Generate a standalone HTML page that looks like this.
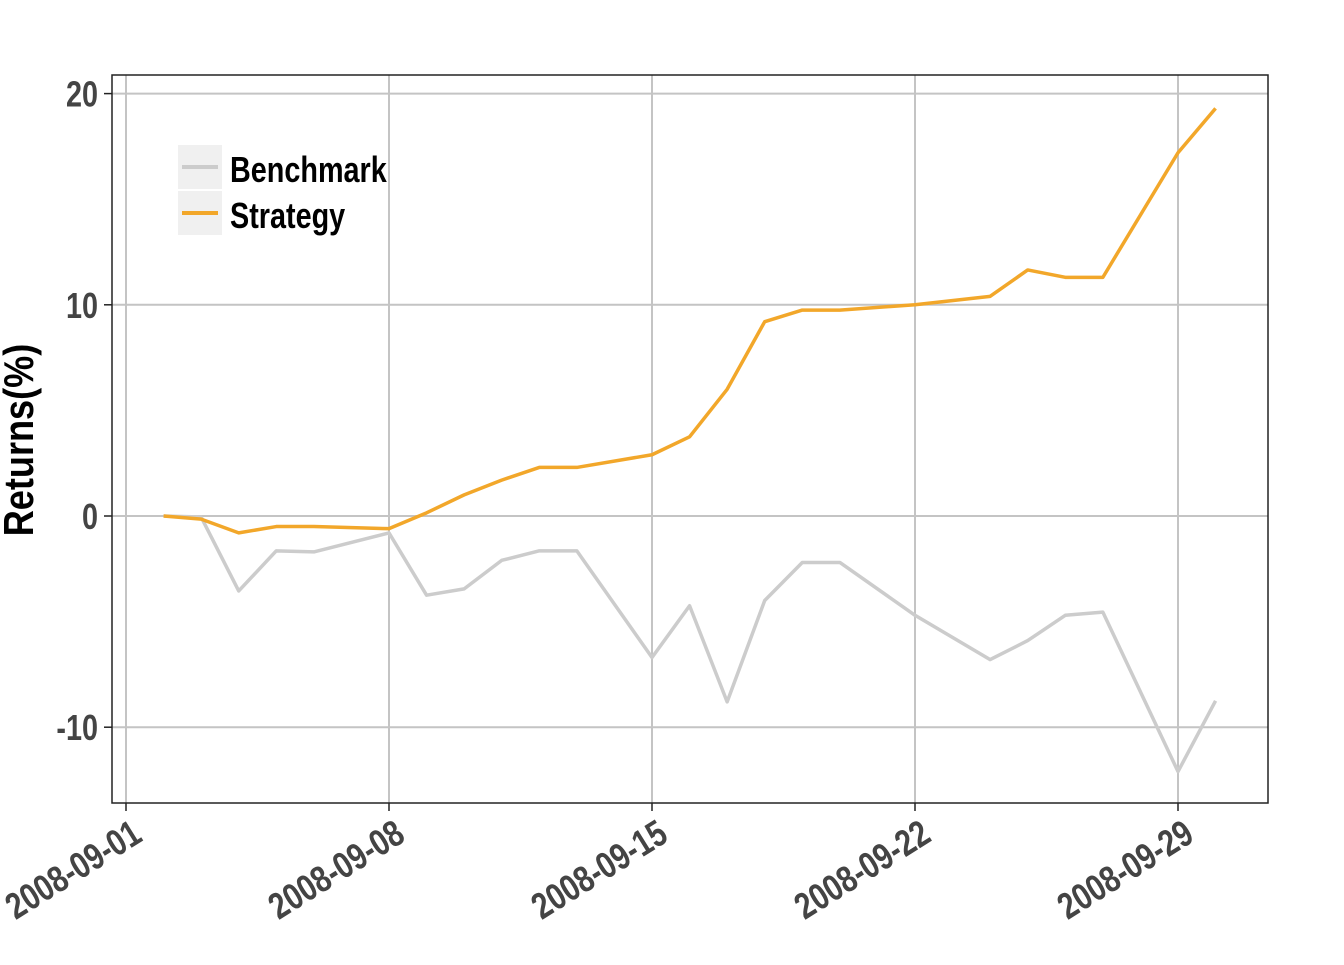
<!DOCTYPE html>
<html><head><meta charset="utf-8"><style>
html,body{margin:0;padding:0;background:#fff;}
svg text{font-family:"Liberation Sans",sans-serif;font-weight:bold;}
</style></head><body>
<svg id="chart" width="1344" height="960" xmlns="http://www.w3.org/2000/svg">
<g id="grid"></g>
<g id="lines"></g>
<rect x="112" y="75" width="1156" height="728" fill="none" stroke="#222" stroke-width="1.5"/>
<g id="axes"></g>
<text transform="translate(33,440) rotate(-90) scale(0.86,1)" text-anchor="middle" font-size="42" fill="#000">Returns(%)</text>
<g>
<rect x="178" y="145" width="44" height="44" fill="#f0f0f0"/>
<line x1="182" y1="167" x2="218" y2="167" stroke="#cccccc" stroke-width="4"/>
<rect x="178" y="191" width="44" height="44" fill="#f0f0f0"/>
<line x1="182" y1="213" x2="218" y2="213" stroke="#f2a72a" stroke-width="4"/>
<text x="230" y="182" font-size="36" fill="#000" transform="translate(230,0) scale(0.8,1) translate(-230,0)">Benchmark</text>
<text x="230" y="228" font-size="36" fill="#000" transform="translate(230,0) scale(0.8,1) translate(-230,0)">Strategy</text>
</g>
</svg>
<script>
const days = [1,2,3,4,5,7,8,9,10,11,12,14,15,16,17,18,19,21,23,24,25,26,28,29];
const strategy = [0,-0.15,-0.8,-0.5,-0.5,-0.6,0.15,1.0,1.7,2.3,2.3,2.9,3.75,6.0,9.2,9.75,9.75,10.0,10.4,11.65,11.3,11.3,17.2,19.3];
const benchmark = [0,-0.05,-3.55,-1.65,-1.7,-0.8,-3.75,-3.45,-2.1,-1.65,-1.65,-6.7,-4.25,-8.8,-4.0,-2.2,-2.2,-4.7,-6.8,-5.9,-4.7,-4.55,-12.1,-8.75];
const yTicks = [-10,0,10,20];
const xTickDays = [0,7,14,21,28];
const xTickLabels = ["2008-09-01","2008-09-08","2008-09-15","2008-09-22","2008-09-29"];
const NS="http://www.w3.org/2000/svg";
const xs = d => 126 + d*263/7;
const ys = v => 516 - v*21.12;
function mk(tag,attrs,parent){const e=document.createElementNS(NS,tag);for(const k in attrs)e.setAttribute(k,attrs[k]);parent.appendChild(e);return e;}
const grid=document.getElementById('grid'), axes=document.getElementById('axes'), lines=document.getElementById('lines');
yTicks.forEach(t=>{
  const g=mk('line',{x1:112,x2:1268,y1:ys(t),y2:ys(t),stroke:'#c4c4c4','stroke-width':2},grid);
  
  
  mk('line',{x1:104,x2:112,y1:ys(t),y2:ys(t),stroke:'#222','stroke-width':1.5},axes);
  const tx=mk('text',{x:98,y:ys(t)+13,'text-anchor':'end','font-size':36,fill:'#444',transform:`translate(98,0) scale(0.8,1) translate(-98,0)`},axes);
  tx.textContent=String(t);
  
  
});
xTickDays.forEach((d,i)=>{
  const g=mk('line',{x1:xs(d),x2:xs(d),y1:75,y2:803,stroke:'#c4c4c4','stroke-width':2},grid);
  
  
  mk('line',{x1:xs(d),x2:xs(d),y1:803,y2:811,stroke:'#222','stroke-width':1.5},axes);
  const tx=mk('text',{'text-anchor':'end','font-size':37,fill:'#444',transform:`translate(${xs(d)+18},${840}) rotate(-32) scale(0.8,1)`},axes);
  tx.textContent=xTickLabels[i];
  
  
});
function path(vals,color,name){
  const d=vals.map((v,i)=>(i?'L':'M')+xs(days[i])+','+ys(v)).join(' ');
  const p=mk('path',{d:d,fill:'none',stroke:color,'stroke-width':3.5,'stroke-linejoin':'round'},lines);
  
  
}
path(benchmark,'#cccccc','benchmark-line');
path(strategy,'#f2a72a','strategy-line');
</script>
</body></html>
